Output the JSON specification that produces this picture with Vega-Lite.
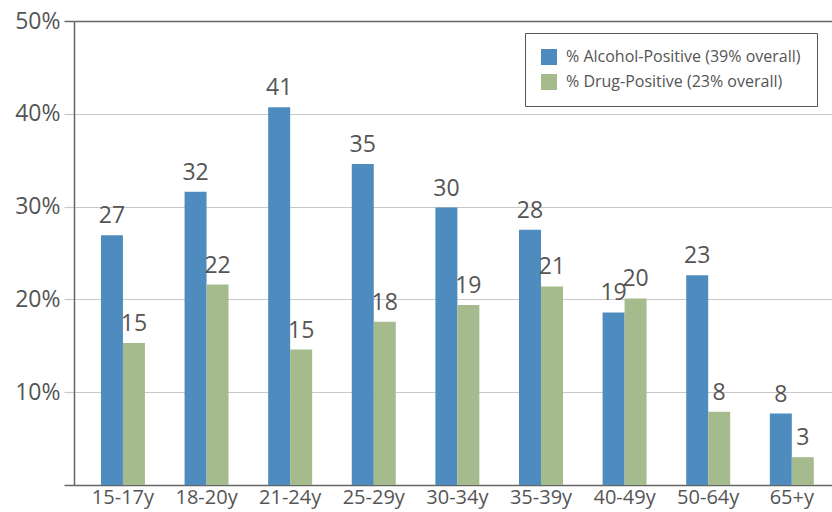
{
  "$schema": "https://vega.github.io/schema/vega-lite/v6.json",
  "autosize": "none",
  "width": 758,
  "height": 464,
  "padding": {"left": 74, "top": 21, "right": 0, "bottom": 27},
  "background": "white",
  "data": {"values": [
    {"age": "15-17y", "series": "% Alcohol-Positive (39% overall)", "value": 26.9},
    {"age": "15-17y", "series": "% Drug-Positive (23% overall)", "value": 15.3},
    {"age": "18-20y", "series": "% Alcohol-Positive (39% overall)", "value": 31.6},
    {"age": "18-20y", "series": "% Drug-Positive (23% overall)", "value": 21.6},
    {"age": "21-24y", "series": "% Alcohol-Positive (39% overall)", "value": 40.7},
    {"age": "21-24y", "series": "% Drug-Positive (23% overall)", "value": 14.6},
    {"age": "25-29y", "series": "% Alcohol-Positive (39% overall)", "value": 34.6},
    {"age": "25-29y", "series": "% Drug-Positive (23% overall)", "value": 17.6},
    {"age": "30-34y", "series": "% Alcohol-Positive (39% overall)", "value": 29.9},
    {"age": "30-34y", "series": "% Drug-Positive (23% overall)", "value": 19.4},
    {"age": "35-39y", "series": "% Alcohol-Positive (39% overall)", "value": 27.5},
    {"age": "35-39y", "series": "% Drug-Positive (23% overall)", "value": 21.4},
    {"age": "40-49y", "series": "% Alcohol-Positive (39% overall)", "value": 18.6},
    {"age": "40-49y", "series": "% Drug-Positive (23% overall)", "value": 20.1},
    {"age": "50-64y", "series": "% Alcohol-Positive (39% overall)", "value": 22.6},
    {"age": "50-64y", "series": "% Drug-Positive (23% overall)", "value": 7.9},
    {"age": "65+y", "series": "% Alcohol-Positive (39% overall)", "value": 7.7},
    {"age": "65+y", "series": "% Drug-Positive (23% overall)", "value": 3.0}
  ]},
  "encoding": {
    "x": {
      "field": "age", "type": "nominal", "sort": null,
      "scale": {"paddingInner": 0.474, "paddingOuter": 0.27, "align": 0.597},
      "axis": {
        "title": null, "labelAngle": 0, "ticks": false, "domain": true,
        "domainColor": "#666666", "domainWidth": 1.5,
        "labelFont": "Open Sans", "labelFontSize": 20, "labelColor": "#555555",
        "labelPadding": 2
      }
    },
    "xOffset": {
      "field": "series", "type": "nominal",
      "scale": {"domain": ["% Alcohol-Positive (39% overall)", "% Drug-Positive (23% overall)"], "paddingInner": 0, "paddingOuter": 0}
    },
    "y": {
      "field": "value", "type": "quantitative",
      "scale": {"domain": [0, 50], "nice": false},
      "axis": {
        "title": null, "values": [0, 10, 20, 30, 40, 50],
        "labelExpr": "datum.value === 0 ? '' : datum.value + '%'",
        "grid": true,
        "gridColor": {"condition": {"test": "datum.value === 50", "value": "#666666"}, "value": "#c8c8c8"},
        "gridWidth": {"condition": {"test": "datum.value === 50", "value": 1.5}, "value": 1.2},
        "tickColor": {"condition": {"test": "datum.value === 50 || datum.value === 0", "value": "#666666"}, "value": "#c8c8c8"},
        "tickWidth": {"condition": {"test": "datum.value === 50 || datum.value === 0", "value": 1.5}, "value": 1.2},
        "tickSize": 10,
        "domain": true, "domainColor": "#666666", "domainWidth": 1.5,
        "labelFont": "Open Sans", "labelFontSize": 23, "labelColor": "#555555",
        "labelPadding": 4
      }
    }
  },
  "layer": [
    {
      "mark": {"type": "bar"},
      "encoding": {
        "color": {
          "field": "series", "type": "nominal",
          "scale": {"domain": ["% Alcohol-Positive (39% overall)", "% Drug-Positive (23% overall)"], "range": ["#4e8cc0", "#a6bb8d"]},
          "legend": {
            "title": null, "orient": "none", "legendX": 451, "legendY": 12,
            "symbolType": "square", "symbolSize": 256, "symbolStrokeWidth": 0,
            "labelFont": "Open Sans", "labelFontSize": 16, "labelColor": "#555555",
            "labelLimit": 0, "labelOffset": 9, "rowPadding": 9,
            "padding": 16, "strokeColor": "#555555", "fillColor": "white"
          }
        }
      }
    },
    {
      "mark": {"type": "text", "baseline": "bottom", "dy": -7, "font": "Open Sans", "fontSize": 23, "color": "#555555"},
      "encoding": {
        "text": {"field": "value", "type": "quantitative", "format": ".0f"}
      }
    }
  ],
  "config": {"view": {"stroke": null}}
}
